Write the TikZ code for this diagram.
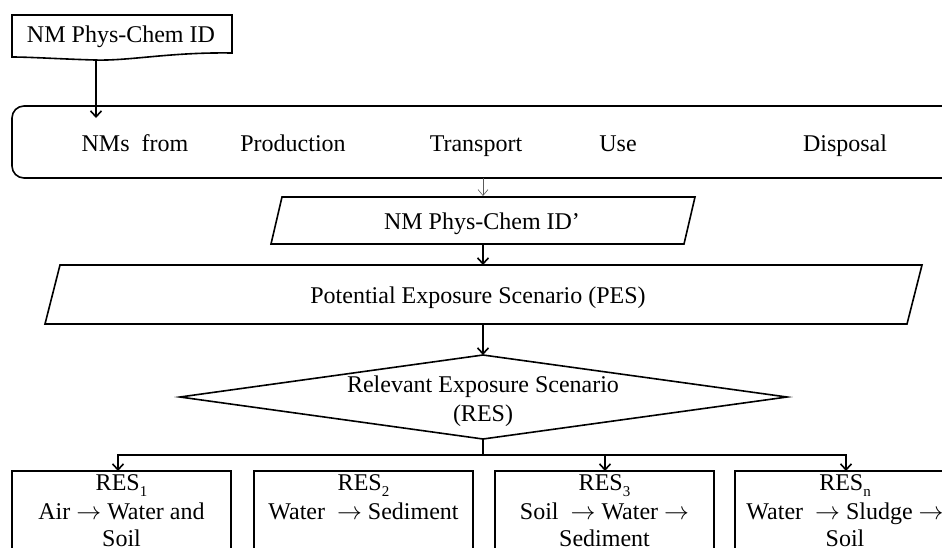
\documentclass[tikz,border=0pt]{standalone}
\usepackage{fontspec}
\setmainfont{Liberation Serif}
\usetikzlibrary{arrows.meta}
\newcommand{\lowsub}[1]{\raisebox{-0.28em}{\fontsize{15}{15}\selectfont #1}}
\begin{document}
\begin{tikzpicture}[x=1pt,y=-1pt,
  shapeline/.style={line width=1.6pt, line join=miter},
  conn/.style={line width=1.6pt, -{Straight Barb[length=6pt,width=11pt,line width=1.6pt]}},
  thinconn/.style={line width=0.6pt, draw=black!65, -{Straight Barb[length=6pt,width=10pt,line width=0.6pt]}},
  lbl/.style={anchor=base, inner sep=0pt, font=\fontsize{24}{28}\selectfont},
]
\useasboundingbox (0,0) rectangle (942,547);
\clip (0,0) rectangle (942,547);
\fill[white] (0,0) rectangle (942,547);

% document symbol
\draw[shapeline] (12,15) -- (232,15) -- (232,53)
  .. controls (170,52) and (130,61) .. (95,60)
  .. controls (60,59) and (30,57) .. (12,57) -- cycle;
\node[lbl] (doc) at (121,42) {NM Phys-Chem ID};
\coordinate (docb) at (96,60);

% life cycle rounded box
\draw[shapeline, rounded corners=12pt] (12,106) rectangle (985,178);
\coordinate (lifein) at (96,118);
\coordinate (lifeb) at (483,178);
\node[lbl] (nms) at (135,151) {NMs\ \ from};
\node[lbl] (prod) at (293,151) {Production};
\node[lbl] (trans) at (476,151) {Transport};
\node[lbl] (use) at (618,151) {Use};
\node[lbl] (disp) at (845,151) {Disposal};

% NM Phys-Chem ID'
\draw[shapeline] (282,197) -- (695,197) -- (684,244) -- (271,244) -- cycle;
\node[lbl] (pid) at (482,229) {NM Phys-Chem ID’};
\coordinate (pidt) at (483,196);
\coordinate (pidb) at (483,244);

% PES
\draw[shapeline] (60,265) -- (922,265) -- (907,324) -- (45,324) -- cycle;
\node[lbl] (pes) at (478,303) {Potential\ Exposure\ Scenario\ (PES)};
\coordinate (pest) at (483,265);
\coordinate (pesb) at (483,324);

% RES diamond
\draw[shapeline] (483,355) -- (787,397) -- (483,439) -- (180,397) -- cycle;
\node[lbl] (resa) at (483,392) {Relevant\ Exposure\ Scenario};
\node[lbl] (resb) at (483,421) {(RES)};
\coordinate (diat) at (483,355);
\coordinate (diab) at (483,439);
\coordinate (branch) at (483,455);

% bottom boxes
\draw[shapeline] (12,471) rectangle (231,600);
\draw[shapeline] (254,471) rectangle (473,600);
\draw[shapeline] (495,471) rectangle (714,600);
\draw[shapeline] (735,471) rectangle (955,600);
\coordinate (res1t) at (118,471);
\coordinate (res3t) at (605,471);
\coordinate (resnt) at (846,471);

\node[lbl] (r1a) at (121.5,490) {RES\lowsub{1}};
\node[lbl] (r1b) at (121.5,519) {Air $\rightarrow$ Water and};
\node[lbl] (r1c) at (121.5,546) {Soil};
\node[lbl] (r2a) at (363.5,490) {RES\lowsub{2}};
\node[lbl] (r2b) at (363.5,519) {Water\ \ $\rightarrow$ Sediment};
\node[lbl] (r3a) at (604.5,490) {RES\lowsub{3}};
\node[lbl] (r3b) at (604.5,519) {Soil\ \ $\rightarrow$ Water $\rightarrow$};
\node[lbl] (r3c) at (604.5,546) {Sediment};
\node[lbl] (r4a) at (845,490) {RES\lowsub{n}};
\node[lbl] (r4b) at (845,519) {Water\ \ $\rightarrow$ Sludge $\rightarrow$};
\node[lbl] (r4c) at (845,546) {Soil};

% connectors
\draw[conn] (docb) -- (lifein);
\draw[thinconn] (lifeb) -- (pidt);
\draw[conn] (pidb) -- (pest);
\draw[conn] (pesb) -- (diat);
\draw[shapeline] (diab) -- (branch);
\draw[conn] (branch) -| (res1t);
\draw[conn] (branch) -| (res3t);
\draw[conn] (branch) -| (resnt);
\end{tikzpicture}
\end{document}
